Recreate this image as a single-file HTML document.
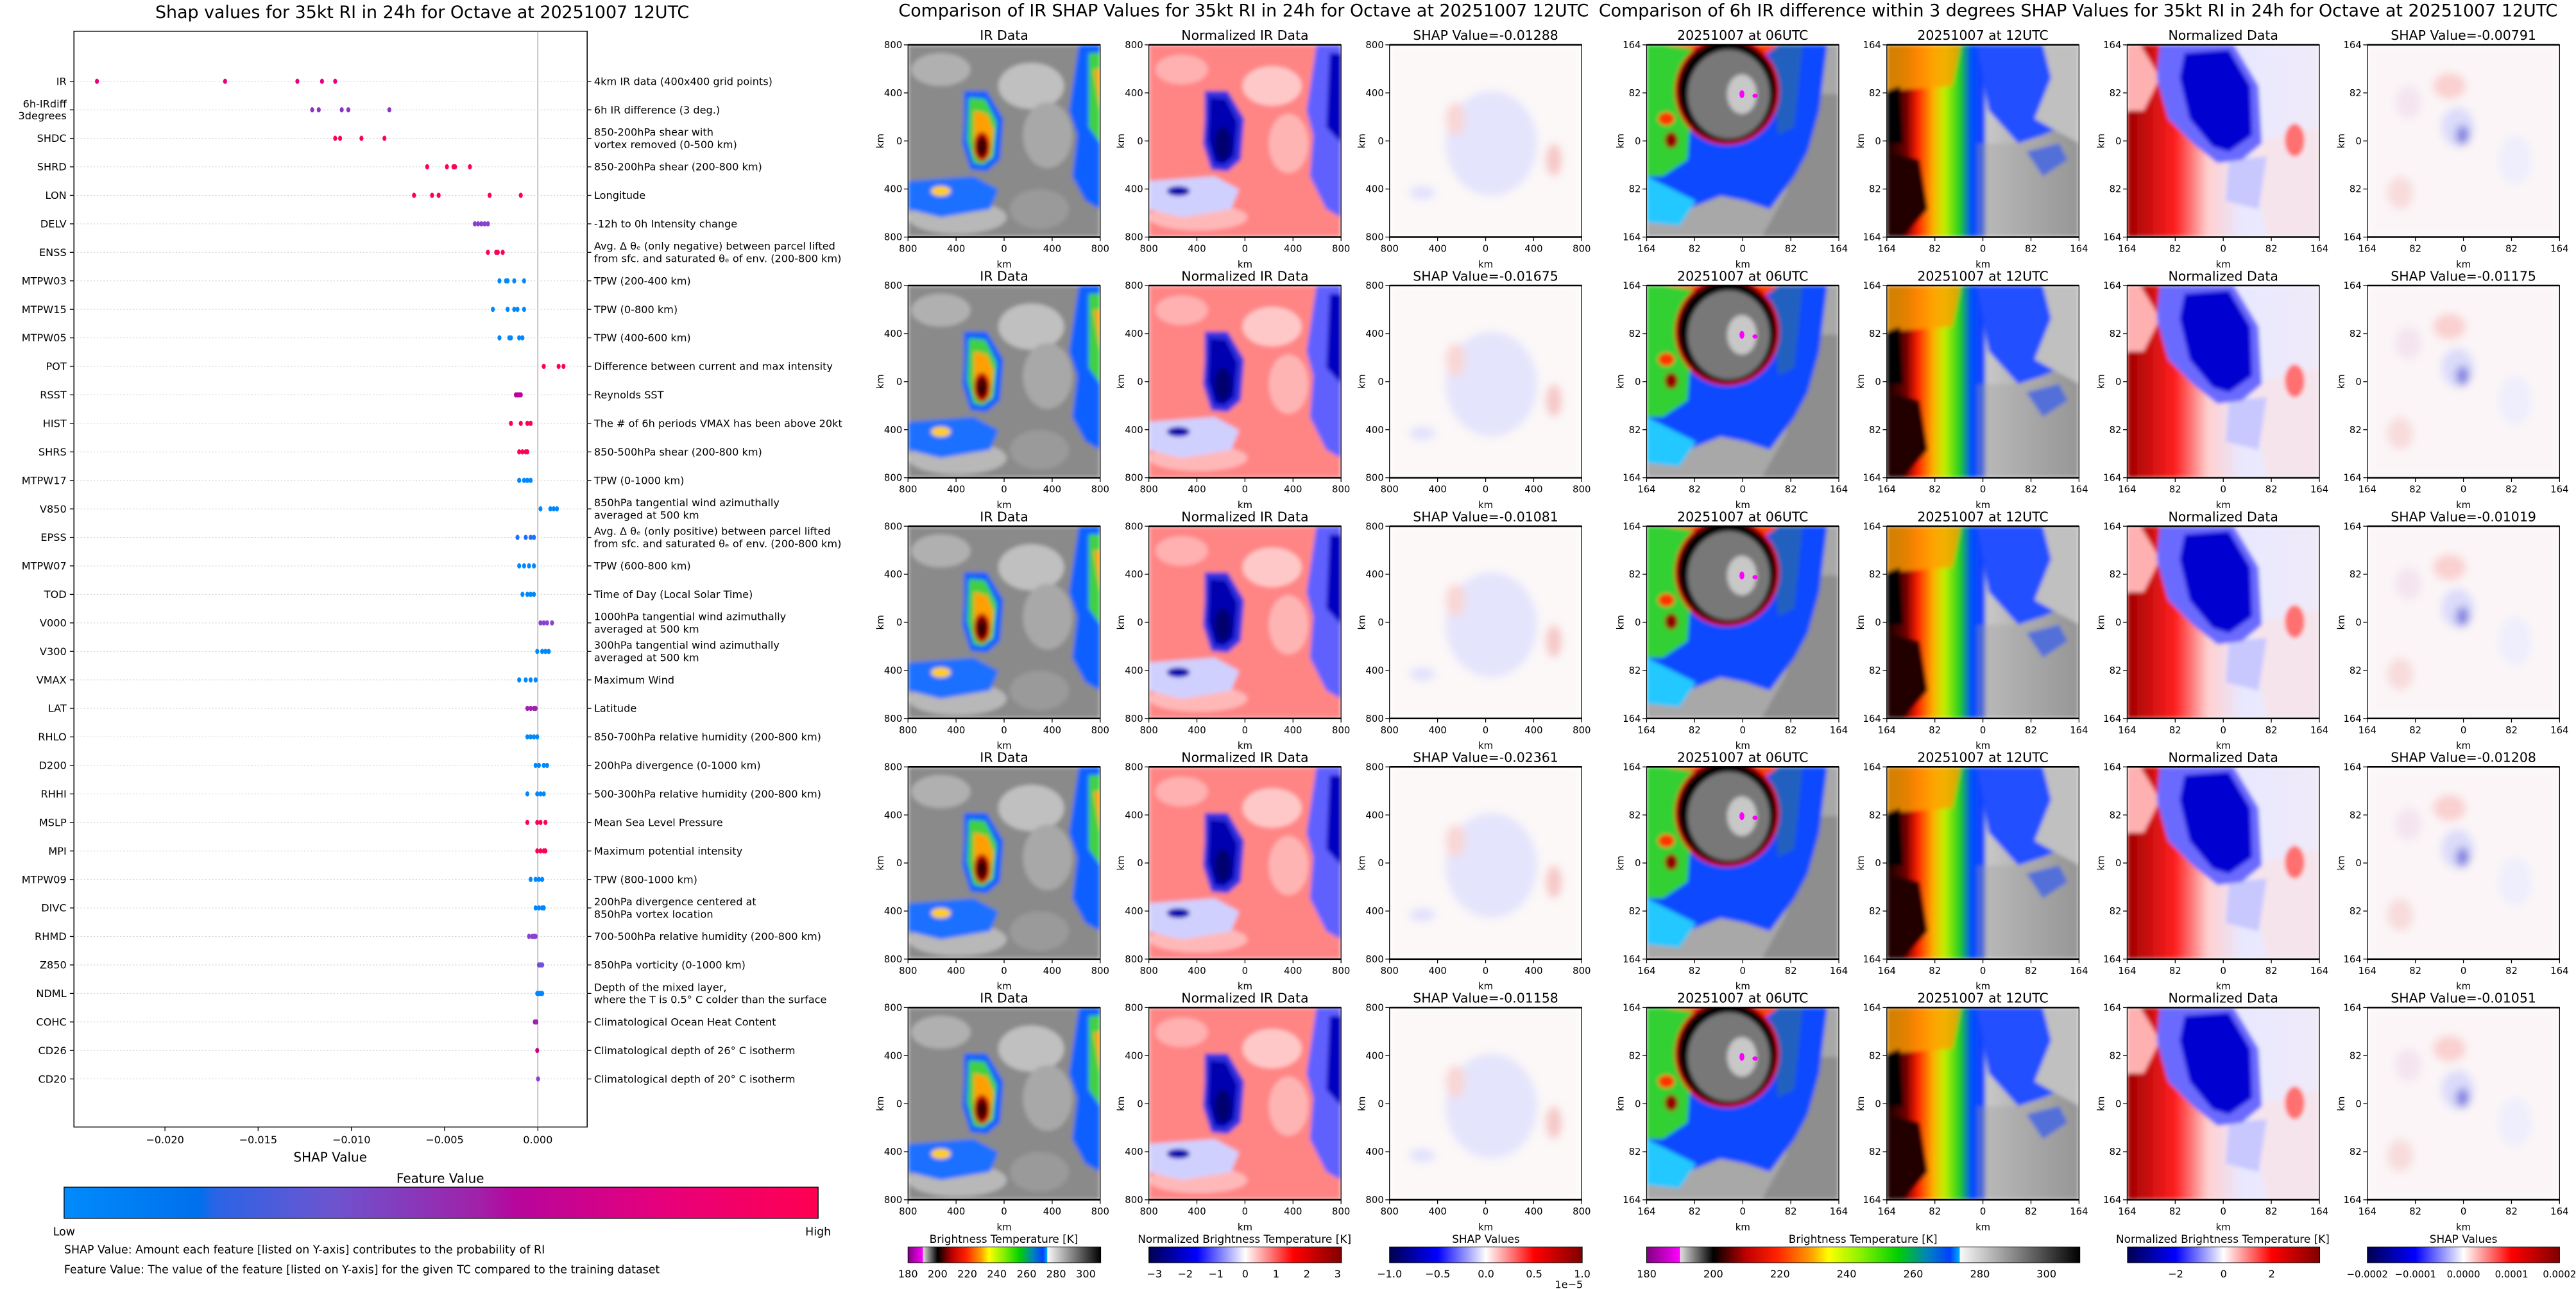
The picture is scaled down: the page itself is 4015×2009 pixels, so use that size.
<!DOCTYPE html>
<html><head><meta charset="utf-8"><style>
html,body{margin:0;padding:0;background:#fff;}
svg{display:block;}
text{font-family:"DejaVu Sans","Liberation Sans",sans-serif;fill:#000;}
</style></head><body>
<svg width="4015" height="2009" viewBox="0 0 1568 784.6" xmlns="http://www.w3.org/2000/svg">
<defs>
<filter id="bl" x="-5%" y="-5%" width="110%" height="110%"><feGaussianBlur stdDeviation="1.2"/></filter>
<filter id="bl2" x="-5%" y="-5%" width="110%" height="110%"><feGaussianBlur stdDeviation="2.5"/></filter>
<clipPath id="pc"><rect x="0" y="0" width="117" height="117"/></clipPath>
<linearGradient id="fv" x1="0" x2="1" y1="0" y2="0">
<stop offset="0" stop-color="#008bfb"/><stop offset="0.18" stop-color="#0070ec"/><stop offset="0.2" stop-color="#2a64e6"/><stop offset="0.35" stop-color="#6b55d0"/><stop offset="0.55" stop-color="#a021a8"/><stop offset="0.6" stop-color="#b8059c"/><stop offset="0.8" stop-color="#e8007a"/><stop offset="1" stop-color="#ff0051"/></linearGradient>
<linearGradient id="irc" x1="0" x2="1" y1="0" y2="0">
<stop offset="0" stop-color="#800080"/><stop offset="0.077" stop-color="#ff00ff"/><stop offset="0.077" stop-color="#e0e0e0"/><stop offset="0.154" stop-color="#000"/><stop offset="0.23" stop-color="#c00000"/><stop offset="0.3" stop-color="#ff2000"/><stop offset="0.38" stop-color="#ffa000"/><stop offset="0.42" stop-color="#ffff00"/><stop offset="0.5" stop-color="#80f000"/><stop offset="0.58" stop-color="#00d000"/><stop offset="0.65" stop-color="#0080c0"/><stop offset="0.7" stop-color="#0040ff"/><stop offset="0.72" stop-color="#00a0ff"/><stop offset="0.723" stop-color="#00ffff"/><stop offset="0.724" stop-color="#f8f8f8"/><stop offset="1" stop-color="#000"/></linearGradient>
<linearGradient id="bwr" x1="0" x2="1" y1="0" y2="0">
<stop offset="0" stop-color="#000050"/><stop offset="0.25" stop-color="#0000ff"/><stop offset="0.5" stop-color="#ffffff"/><stop offset="0.75" stop-color="#ff0000"/><stop offset="1" stop-color="#800000"/></linearGradient>
<linearGradient id="nrg" x1="0" x2="1" y1="0" y2="0">
<stop offset="0" stop-color="#a00000"/><stop offset="0.25" stop-color="#ff2020"/><stop offset="0.42" stop-color="#ffd0d0"/><stop offset="0.6" stop-color="#e8e8ff"/><stop offset="1" stop-color="#f0eaf8"/></linearGradient>
<linearGradient id="g12" x1="0" x2="1" y1="0" y2="0">
<stop offset="0" stop-color="#100000"/><stop offset="0.1" stop-color="#700000"/><stop offset="0.16" stop-color="#ff2000"/><stop offset="0.24" stop-color="#ffb000"/><stop offset="0.3" stop-color="#c0f000"/><stop offset="0.38" stop-color="#20d020"/><stop offset="0.44" stop-color="#0050ff"/><stop offset="0.5" stop-color="#1040ff"/><stop offset="0.52" stop-color="#c8c8c8"/><stop offset="1" stop-color="#909090"/></linearGradient>

<g id="pIR"><g clip-path="url(#pc)"><g filter="url(#bl)">
<rect width="117" height="117" fill="#8a8a8a"/>
<ellipse cx="20" cy="15" rx="18" ry="10" fill="#b0b0b0"/><ellipse cx="75" cy="25" rx="20" ry="14" fill="#c0c0c0"/><ellipse cx="85" cy="55" rx="15" ry="20" fill="#a8a8a8"/><ellipse cx="30" cy="105" rx="30" ry="10" fill="#b8b8b8"/><ellipse cx="80" cy="100" rx="18" ry="12" fill="#9a9a9a"/>
<path d="M104 0 L117 0 L117 100 L108 95 L100 80 L103 55 L98 40 Z" fill="#1060ff"/>
<path d="M110 5 L117 5 L117 60 L110 50 Z" fill="#40d040"/><path d="M113 15 L117 15 L117 40 Z" fill="#ffa000"/>
<path d="M0 83 L40 80 L55 88 L50 100 L20 105 L0 100 Z" fill="#1a70ff"/>
<ellipse cx="20" cy="89" rx="6" ry="3" fill="#ffd000"/>
<path d="M34 28 L48 28 L58 45 L56 70 L48 77 L38 76 L33 60 L34 45 Z" fill="#1060ff"/>
<path d="M37 32 L47 33 L54 47 L52 68 L46 73 L40 72 L36 58 Z" fill="#40d040"/>
<path d="M40 40 L48 42 L52 52 L50 68 L44 71 L40 66 Z" fill="#ffa000"/>
<ellipse cx="45" cy="62" rx="5" ry="9" fill="#c00000"/><ellipse cx="45" cy="62" rx="3" ry="6" fill="#300000"/>
</g></g></g>

<g id="pNIR"><g clip-path="url(#pc)"><g filter="url(#bl)">
<rect width="117" height="117" fill="#ff8585"/>
<ellipse cx="20" cy="15" rx="16" ry="9" fill="#ffb0b0"/><ellipse cx="75" cy="25" rx="18" ry="12" fill="#ffc8c8"/><ellipse cx="85" cy="60" rx="12" ry="18" fill="#ffb4b4"/><ellipse cx="30" cy="105" rx="30" ry="8" fill="#ffb8b8"/>
<path d="M102 0 L117 0 L117 105 L108 100 L98 80 L100 55 L96 40 Z" fill="#6060ff"/>
<path d="M110 5 L117 5 L117 60 L108 50 Z" fill="#0000c0"/>
<path d="M0 83 L40 80 L55 88 L50 100 L20 105 L0 100 Z" fill="#d0d0ff"/>
<ellipse cx="18" cy="89" rx="7" ry="3" fill="#0000b0"/>
<path d="M34 28 L48 28 L58 45 L56 70 L48 77 L38 76 L33 60 L34 45 Z" fill="#3030e0"/>
<path d="M37 32 L47 33 L54 47 L52 68 L46 73 L40 72 L36 58 Z" fill="#0000b0"/>
<ellipse cx="45" cy="60" rx="5" ry="10" fill="#000070"/>
</g></g></g>

<g id="pSH"><g clip-path="url(#pc)"><g filter="url(#bl2)">
<rect width="117" height="117" fill="#fcf8f8"/>
<ellipse cx="62" cy="60" rx="28" ry="32" fill="#e4e4fc"/>
<ellipse cx="40" cy="45" rx="6" ry="10" fill="#fad6d6"/><ellipse cx="100" cy="70" rx="5" ry="10" fill="#f6c8c8"/>
<ellipse cx="20" cy="90" rx="8" ry="4" fill="#e0e0fc"/>
</g></g></g>

<g id="p06"><g clip-path="url(#pc)"><g filter="url(#bl)">
<rect width="117" height="117" fill="#a8a8a8"/>
<path d="M95 30 L117 30 L117 117 L70 117 L85 90 Z" fill="#8e8e8e"/>
<path d="M0 0 L110 0 L105 40 L98 65 L90 80 L75 100 L60 95 L45 92 L25 100 L0 95 Z" fill="#1048ff"/>
<path d="M0 80 L30 95 L20 110 L0 108 Z" fill="#20c8ff"/>
<path d="M0 0 L30 0 L25 70 L10 80 L0 80 Z" fill="#30d030"/>
<path d="M75 0 L95 0 L90 50 L80 55 Z" fill="#2060c0"/>
<path d="M10 0 L80 0 L70 8 Z" fill="#ff4000"/>
<ellipse cx="49" cy="28" rx="32" ry="33" fill="#d00000"/>
<ellipse cx="49" cy="28" rx="30" ry="31" fill="#000"/>
<ellipse cx="50" cy="30" rx="25" ry="27" fill="#787878"/>
<ellipse cx="58" cy="30" rx="9" ry="12" fill="#c8c8c8"/>
<ellipse cx="12" cy="45" rx="5" ry="4" fill="#ff3000"/><ellipse cx="15" cy="58" rx="4" ry="5" fill="#900000"/>
</g>
<ellipse cx="58" cy="30" rx="1.5" ry="2.4" fill="#ff00ff"/><ellipse cx="66" cy="31" rx="1.6" ry="1.3" fill="#ff00ff"/>
</g></g>

<g id="p12"><g clip-path="url(#pc)"><g filter="url(#bl)">
<rect width="117" height="117" fill="url(#g12)"/>
<path d="M0 0 L45 0 L40 25 L0 28 Z" fill="#ffa000" opacity="0.8"/>
<path d="M0 28 L8 25 L10 60 L0 60 Z" fill="#000"/>
<path d="M0 65 L20 70 L25 100 L10 117 L0 117 Z" fill="#200000"/>
<path d="M55 0 L117 0 L117 45 L95 55 L80 60 L62 40 Z" fill="#2050ff"/>
<path d="M95 0 L117 0 L117 60 L90 45 L100 20 Z" fill="#c0c0c0"/>
<path d="M85 65 L105 60 L110 70 L95 80 Z" fill="#2050ff"/>
<rect x="55" y="60" width="62" height="57" fill="#a0a0a0" opacity="0.4"/>
</g></g></g>

<g id="pND"><g clip-path="url(#pc)"><g filter="url(#bl)">
<rect width="117" height="117" fill="url(#nrg)"/>
<path d="M0 0 L8 0 L20 20 L10 40 L0 40 Z" fill="#ffb0b0"/>
<path d="M75 60 L117 50 L117 117 L85 117 Z" fill="#f6e4ec"/>
<path d="M62 70 L85 68 L80 100 L60 95 Z" fill="#c8c8ff"/>
<ellipse cx="102" cy="58" rx="6" ry="10" fill="#ff7070"/>
<path d="M20 0 L65 0 L80 25 L82 60 L70 70 L55 72 L40 60 L25 45 L18 20 Z" fill="#6a6aff"/>
<path d="M35 5 L62 3 L75 25 L76 55 L62 65 L52 62 L38 45 L32 20 Z" fill="#0000d0"/>
</g></g></g>

<g id="pSR"><g clip-path="url(#pc)"><g filter="url(#bl2)">
<rect width="117" height="117" fill="#fbf5f7"/>
<ellipse cx="55" cy="50" rx="10" ry="12" fill="#dcdcfa"/><ellipse cx="58" cy="55" rx="4" ry="6" fill="#8080e0"/>
<ellipse cx="50" cy="25" rx="10" ry="8" fill="#fad0d0"/><ellipse cx="25" cy="35" rx="8" ry="10" fill="#f4e4f0"/>
<ellipse cx="90" cy="70" rx="10" ry="15" fill="#eeeefc"/><ellipse cx="20" cy="90" rx="8" ry="10" fill="#f8dcdc"/>
</g></g></g>
</defs>

<!-- LEFT SHAP SUMMARY -->
<text x="257" y="11" font-size="10.5" text-anchor="middle">Shap values for 35kt RI in 24h for Octave at 20251007 12UTC</text>
<rect x="45" y="19" width="312.4" height="667" fill="none" stroke="#000" stroke-width="0.6"/>
<line x1="327.4" y1="19" x2="327.4" y2="686" stroke="#999" stroke-width="0.5"/>
<g id="rows" font-size="6.3">
</g>
<g stroke="#000" stroke-width="0.5">
<line x1="100.4" y1="686" x2="100.4" y2="688.5"/><line x1="157.1" y1="686" x2="157.1" y2="688.5"/><line x1="213.9" y1="686" x2="213.9" y2="688.5"/><line x1="270.6" y1="686" x2="270.6" y2="688.5"/><line x1="327.4" y1="686" x2="327.4" y2="688.5"/>
</g>
<g font-size="6.3" text-anchor="middle">
<text x="100.4" y="696">−0.020</text><text x="157.1" y="696">−0.015</text><text x="213.9" y="696">−0.010</text><text x="270.6" y="696">−0.005</text><text x="327.4" y="696">0.000</text>
</g>
<text x="201" y="707" font-size="7.8" text-anchor="middle">SHAP Value</text>
<text x="268" y="720" font-size="7.8" text-anchor="middle">Feature Value</text>
<rect x="39" y="722.6" width="459" height="19" fill="url(#fv)" stroke="#000" stroke-width="0.5"/>
<text x="39" y="752" font-size="6.8" text-anchor="middle">Low</text>
<text x="498" y="752" font-size="6.8" text-anchor="middle">High</text>
<text x="39" y="763" font-size="6.8">SHAP Value: Amount each feature [listed on Y-axis] contributes to the probability of RI</text>
<text x="39" y="775" font-size="6.8">Feature Value: The value of the feature [listed on Y-axis] for the given TC compared to the training dataset</text>

<!-- MIDDLE -->
<text x="757" y="10" font-size="10.5" text-anchor="middle">Comparison of IR SHAP Values for 35kt RI in 24h for Octave at 20251007 12UTC</text>
<text x="1265" y="10" font-size="10.5" text-anchor="middle">Comparison of 6h IR difference within 3 degrees SHAP Values for 35kt RI in 24h for Octave at 20251007 12UTC</text>
<g id="panels"></g>

<!-- Colorbars -->
<g font-size="6.3" text-anchor="middle">
<text x="611" y="756.5" font-size="6.6">Brightness Temperature [K]</text>
<rect x="552.7" y="759" width="117.3" height="9.6" fill="url(#irc)" stroke="#000" stroke-width="0.4"/>
<text x="552.7" y="777.5">180</text><text x="570.7" y="777.5">200</text><text x="588.8" y="777.5">220</text><text x="606.8" y="777.5">240</text><text x="624.9" y="777.5">260</text><text x="642.9" y="777.5">280</text><text x="661" y="777.5">300</text>
<text x="757.5" y="756.5" font-size="6.6">Normalized Brightness Temperature [K]</text>
<rect x="699.3" y="759" width="117.3" height="9.6" fill="url(#bwr)" stroke="#000" stroke-width="0.4"/>
<text x="702.7" y="777.5">−3</text><text x="721.4" y="777.5">−2</text><text x="740.1" y="777.5">−1</text><text x="758" y="777.5">0</text><text x="776.8" y="777.5">1</text><text x="795.5" y="777.5">2</text><text x="814.2" y="777.5">3</text>
<text x="904.5" y="756.5" font-size="6.6">SHAP Values</text>
<rect x="845.8" y="759" width="117.3" height="9.6" fill="url(#bwr)" stroke="#000" stroke-width="0.4"/>
<text x="845.8" y="777.5">−1.0</text><text x="875.1" y="777.5">−0.5</text><text x="904.5" y="777.5">0.0</text><text x="933.8" y="777.5">0.5</text><text x="963.1" y="777.5">1.0</text>
<text x="955" y="784">1e−5</text>
<text x="1134" y="756.5" font-size="6.6">Brightness Temperature [K]</text>
<rect x="1002.3" y="759" width="263.7" height="9.6" fill="url(#irc)" stroke="#000" stroke-width="0.4"/>
<text x="1002.3" y="777.5">180</text><text x="1042.9" y="777.5">200</text><text x="1083.5" y="777.5">220</text><text x="1124" y="777.5">240</text><text x="1164.6" y="777.5">260</text><text x="1205.2" y="777.5">280</text><text x="1245.7" y="777.5">300</text>
<text x="1353" y="756.5" font-size="6.6">Normalized Brightness Temperature [K]</text>
<rect x="1295" y="759" width="117" height="9.6" fill="url(#bwr)" stroke="#000" stroke-width="0.4"/>
<text x="1324.3" y="777.5">−2</text><text x="1353.5" y="777.5">0</text><text x="1382.8" y="777.5">2</text>
<text x="1499.5" y="756.5" font-size="6.6">SHAP Values</text>
<rect x="1441" y="759" width="117" height="9.6" fill="url(#bwr)" stroke="#000" stroke-width="0.4"/>
<g font-size="5.8"><text x="1441" y="777.5">−0.0002</text><text x="1470.3" y="777.5">−0.0001</text><text x="1499.5" y="777.5">0.0000</text><text x="1528.8" y="777.5">0.0001</text><text x="1558" y="777.5">0.0002</text></g>
</g>
</svg>
<script>
(function(){
var NS="http://www.w3.org/2000/svg";
function el(tag,attrs,parent,txt){var e=document.createElementNS(NS,tag);for(var k in attrs)e.setAttribute(k,attrs[k]);if(txt!=null)e.textContent=txt;parent.appendChild(e);return e;}
var rows=document.getElementById('rows');
var feats=[
["IR","4km IR data (400x400 grid points)",[59,137,181,196,204],"#e8007f"],
["6h-IRdiff|3degrees","6h IR difference (3 deg.)",[190,194,208,212,237],"#8a34c0"],
["SHDC","850-200hPa shear with|vortex removed (0-500 km)",[204,207,220,234],"#ff0058"],
["SHRD","850-200hPa shear (200-800 km)",[260,272,276,277,286],"#ff0058"],
["LON","Longitude",[252,263,267,298,317],"#ff0058"],
["DELV","-12h to 0h Intensity change",[289,291,293,295,297],"#8a40d0"],
["ENSS","Avg. Δ θₑ (only negative) between parcel lifted|from sfc. and saturated θₑ of env. (200-800 km)",[297,302,303,306],"#ff0058"],
["MTPW03","TPW (200-400 km)",[304,308,309,313,319],"#0088ff"],
["MTPW15","TPW (0-800 km)",[300,309,313,315,319],"#0088ff"],
["MTPW05","TPW (400-600 km)",[304,310,311,316,318],"#0088ff"],
["POT","Difference between current and max intensity",[331,340,343],"#ff0058"],
["RSST","Reynolds SST",[314,315,316,317],"#c0009a"],
["HIST","The # of 6h periods VMAX has been above 20kt",[311,317,321,323],"#ff0058"],
["SHRS","850-500hPa shear (200-800 km)",[316,318,320,321],"#ff0058"],
["MTPW17","TPW (0-1000 km)",[316,319,321,323],"#0088ff"],
["V850","850hPa tangential wind azimuthally|averaged at 500 km",[329,335,337,339],"#0088ff"],
["EPSS","Avg. Δ θₑ (only positive) between parcel lifted|from sfc. and saturated θₑ of env. (200-800 km)",[315,320,323,325],"#2070ff"],
["MTPW07","TPW (600-800 km)",[316,319,322,325],"#0088ff"],
["TOD","Time of Day (Local Solar Time)",[318,321,323,325],"#0088ff"],
["V000","1000hPa tangential wind azimuthally|averaged at 500 km",[329,331,333,336],"#8a40d0"],
["V300","300hPa tangential wind azimuthally|averaged at 500 km",[327,330,332,334],"#0088ff"],
["VMAX","Maximum Wind",[316,320,323,326],"#0088ff"],
["LAT","Latitude",[321,323,325,326],"#a020b0"],
["RHLO","850-700hPa relative humidity (200-800 km)",[321,323,325,327],"#0088ff"],
["D200","200hPa divergence (0-1000 km)",[326,328,331,333],"#0088ff"],
["RHHI","500-300hPa relative humidity (200-800 km)",[321,327,329,331],"#0088ff"],
["MSLP","Mean Sea Level Pressure",[321,327,329,332],"#ff0058"],
["MPI","Maximum potential intensity",[327,329,331,332],"#ff0058"],
["MTPW09","TPW (800-1000 km)",[323,326,328,330],"#0088ff"],
["DIVC","200hPa divergence centered at|850hPa vortex location",[326,328,330,331],"#0088ff"],
["RHMD","700-500hPa relative humidity (200-800 km)",[322,324,325,326],"#8a40d0"],
["Z850","850hPa vorticity (0-1000 km)",[328,329,330],"#7050d8"],
["NDML","Depth of the mixed layer,|where the T is 0.5° C colder than the surface",[327,328,329,330],"#0088ff"],
["COHC","Climatological Ocean Heat Content",[325.5,326.5],"#a020b0"],
["CD26","Climatological depth of 26° C isotherm",[327],"#d0008a"],
["CD20","Climatological depth of 20° C isotherm",[327.5],"#8a40d0"]];
for(var i=0;i<feats.length;i++){
 var y=49.5+i*17.35,f=feats[i];
 el('line',{x1:45,x2:357.4,y1:y,y2:y,stroke:'#ccc','stroke-width':0.4,'stroke-dasharray':'0.8 1.2'},rows);
 el('line',{x1:42.5,x2:45,y1:y,y2:y,stroke:'#000','stroke-width':0.5},rows);
 el('line',{x1:357.4,x2:359.9,y1:y,y2:y,stroke:'#000','stroke-width':0.5},rows);
 var L=f[0].split('|');
 for(var j=0;j<L.length;j++) el('text',{x:40.5,y:y+2.2+(j-(L.length-1)/2)*7.2,'text-anchor':'end'},rows,L[j]);
 var R=f[1].split('|');
 for(var j=0;j<R.length;j++) el('text',{x:361.6,y:y+2.2+(j-(R.length-1)/2)*7.6},rows,R[j]);
 for(var k=0;k<f[2].length;k++) el('ellipse',{cx:f[2][k],cy:y,rx:1.2,ry:1.6,fill:f[3]},rows);
}
var P=document.getElementById('panels');
var cols=[[552.7,'pIR','IR Data',1],[699.3,'pNIR','Normalized IR Data',1],[845.8,'pSH','SHAP',1],
 [1002.3,'p06','20251007 at 06UTC',2],[1148.5,'p12','20251007 at 12UTC',2],[1294.8,'pND','Normalized Data',2],[1441,'pSR','SHAP',2]];
var sh1=['-0.01288','-0.01675','-0.01081','-0.02361','-0.01158'];
var sh2=['-0.00791','-0.01175','-0.01019','-0.01208','-0.01051'];
for(var r=0;r<5;r++){
 var top=27.3+r*146.5;
 for(var c=0;c<cols.length;c++){
  var x=cols[c][0],id=cols[c][1],t=cols[c][2],s=cols[c][3];
  if(t=='SHAP') t='SHAP Value='+(s==1?sh1[r]:sh2[r]);
  el('use',{href:'#'+id,x:x,y:top},P);
  el('rect',{x:x,y:top,width:117,height:117,fill:'none',stroke:'#000','stroke-width':0.5},P);
  el('line',{x1:x,x2:x+117,y1:top,y2:top,stroke:'#000','stroke-width':1},P);
  el('line',{x1:x,x2:x+117,y1:top+117,y2:top+117,stroke:'#000','stroke-width':1},P);
  el('text',{x:x+58.5,y:top-3,'font-size':8,'text-anchor':'middle'},P,t);
  var labs=s==1?['800','400','0','400','800']:['164','82','0','82','164'];
  for(var k=0;k<5;k++){
   var tx=x+k*29.25,ty=top+k*29.25;
   el('line',{x1:tx,x2:tx,y1:top+117,y2:top+119.5,stroke:'#000','stroke-width':0.5},P);
   el('text',{x:tx,y:top+126,'font-size':5.8,'text-anchor':'middle'},P,labs[k]);
   el('line',{x1:x-2.5,x2:x,y1:ty,y2:ty,stroke:'#000','stroke-width':0.5},P);
   el('text',{x:x-3.5,y:ty+2,'font-size':5.8,'text-anchor':'end'},P,labs[k]);
  }
  el('text',{x:x+58.5,y:top+135.5,'font-size':5.8,'text-anchor':'middle'},P,'km');
  var kx=x-(s==1?15:14),ky=top+58.5;
  el('text',{x:kx,y:ky,'font-size':5.8,'text-anchor':'middle',transform:'rotate(-90 '+kx+' '+ky+')'},P,'km');
 }
}
})();
</script>
</body></html>
